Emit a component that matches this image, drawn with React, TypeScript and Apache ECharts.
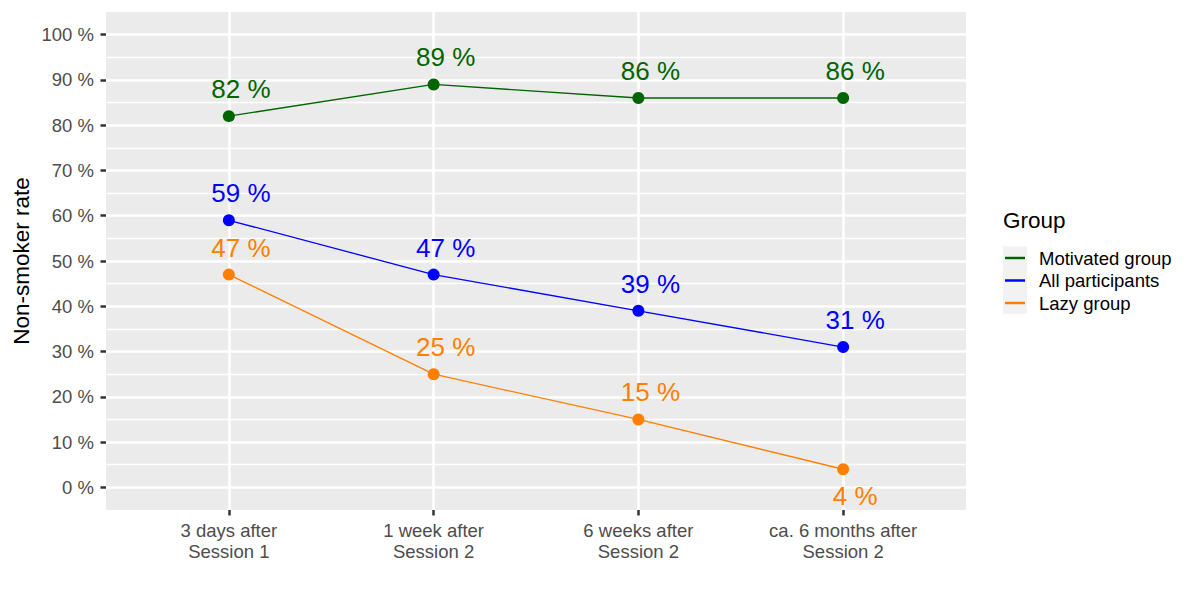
import React, { useEffect, useRef } from "react";
import * as echarts from "echarts";

const categories = [
  "3 days after\nSession 1",
  "1 week after\nSession 2",
  "6 weeks after\nSession 2",
  "ca. 6 months after\nSession 2",
];
const seriesNames = ["Motivated group", "All participants", "Lazy group"];
const seriesColors = ["#006400", "#0000FF", "#FF7F00"];
const motivatedValues = [82, 89, 86, 86];
const allParticipantsValues = [59, 47, 39, 31];
const lazyValues = [47, 25, 15, 4];
const lazyLabelBelow = [false, false, false, true];
const yMajorTicks = [0, 10, 20, 30, 40, 50, 60, 70, 80, 90, 100];
const yMinorTicks = [5, 15, 25, 35, 45, 55, 65, 75, 85, 95];
const xTicks = [1, 2, 3, 4];
const yTitle = "Non-smoker rate";
const legendTitle = "Group";

const FONT = "'Liberation Sans', Arial, Helvetica, sans-serif";

export default function App() {
  const ref = useRef<HTMLDivElement>(null);

  useEffect(() => {
    document.body.style.margin = "0";
    if (!ref.current) return;
    const chart = echarts.init(ref.current, undefined, { renderer: "svg" });

    const allValues = [motivatedValues, allParticipantsValues, lazyValues];
    const belowFlags = [null, null, lazyLabelBelow];

    const series = allValues.map((vals, si) => ({
      type: "line",
      name: seriesNames[si],
      data: vals.map((v, i) => {
        const below = belowFlags[si] && belowFlags[si]![i];
        return below
          ? { value: [xTicks[i], v], label: { offset: [12, 27] } }
          : { value: [xTicks[i], v] };
      }),
      symbol: "circle",
      symbolSize: 12,
      showSymbol: true,
      lineStyle: { width: 1.3, color: seriesColors[si] },
      itemStyle: { color: seriesColors[si] },
      label: {
        show: true,
        position: "inside",
        offset: [12, -27],
        formatter: (p: any) => `${p.value[1]} %`,
        fontSize: 26,
        fontFamily: FONT,
        color: seriesColors[si],
      },
      emphasis: { disabled: true },
      z: 3,
    }));

    const legendGraphics: any[] = [
      {
        type: "text",
        left: 1003,
        top: 209,
        style: { text: legendTitle, fontSize: 22.5, fontFamily: FONT, fill: "#000" },
      },
      {
        type: "rect",
        shape: { x: 1003, y: 246.5, width: 24, height: 22.5 * seriesNames.length },
        style: { fill: "#F2F2F2" },
      },
    ];
    seriesNames.forEach((n, i) => {
      const cy = 258 + 22.5 * i;
      legendGraphics.push({
        type: "line",
        shape: { x1: 1005, y1: cy, x2: 1025, y2: cy },
        style: { stroke: seriesColors[i], lineWidth: 2.5 },
      });
      legendGraphics.push({
        type: "text",
        x: 1039,
        y: cy,
        style: {
          text: n,
          fontSize: 18.5,
          fontFamily: FONT,
          fill: "#000",
          textVerticalAlign: "middle",
          verticalAlign: "middle",
        },
      });
    });

    chart.setOption({
      animation: false,
      backgroundColor: "#FFFFFF",
      grid: {
        left: 106,
        right: 234,
        top: 12,
        bottom: 90,
        show: true,
        backgroundColor: "#EBEBEB",
        borderWidth: 0,
      },
      xAxis: {
        type: "value",
        min: 0.4,
        max: 4.6,
        position: "bottom",
        axisLine: { show: false, onZero: false },
        axisTick: {
          show: true,
          customValues: xTicks,
          length: 5.5,
          lineStyle: { color: "#333333", width: 2.5 },
        },
        axisLabel: {
          customValues: xTicks,
          formatter: (v: number) => categories[Math.round(v) - 1] ?? "",
          fontSize: 18.5,
          fontFamily: FONT,
          color: "#4D4D4D",
          lineHeight: 21,
          margin: 10,
        },
        splitLine: { show: true, lineStyle: { color: "#FFFFFF", width: 2.5 } },
      },
      yAxis: [
        {
          type: "value",
          min: -5,
          max: 105,
          axisLine: { show: false, onZero: false },
          axisTick: {
            show: true,
            customValues: yMajorTicks,
            length: 5.5,
            lineStyle: { color: "#333333", width: 2.5 },
          },
          axisLabel: {
            customValues: yMajorTicks,
            formatter: (v: number) => `${v} %`,
            fontSize: 18.5,
            fontFamily: FONT,
            color: "#4D4D4D",
            margin: 12,
          },
          splitLine: { show: true, lineStyle: { color: "#FFFFFF", width: 2.5 } },
        },
        {
          type: "value",
          min: -5,
          max: 105,
          position: "left",
          axisLine: { show: false, onZero: false },
          axisTick: { show: false, customValues: yMinorTicks },
          axisLabel: { show: false, customValues: yMinorTicks },
          splitLine: { show: true, lineStyle: { color: "#FFFFFF", width: 1.3 } },
        },
      ],
      series,
      graphic: [
        {
          type: "text",
          x: 21,
          y: 261,
          rotation: Math.PI / 2,
          style: {
            text: yTitle,
            fontSize: 22.5,
            fontFamily: FONT,
            fill: "#000",
            align: "center",
            verticalAlign: "middle",
          },
        },
        ...legendGraphics,
      ],
    });

    return () => chart.dispose();
  }, []);

  return <div ref={ref} style={{ width: 1200, height: 600 }} />;
}
